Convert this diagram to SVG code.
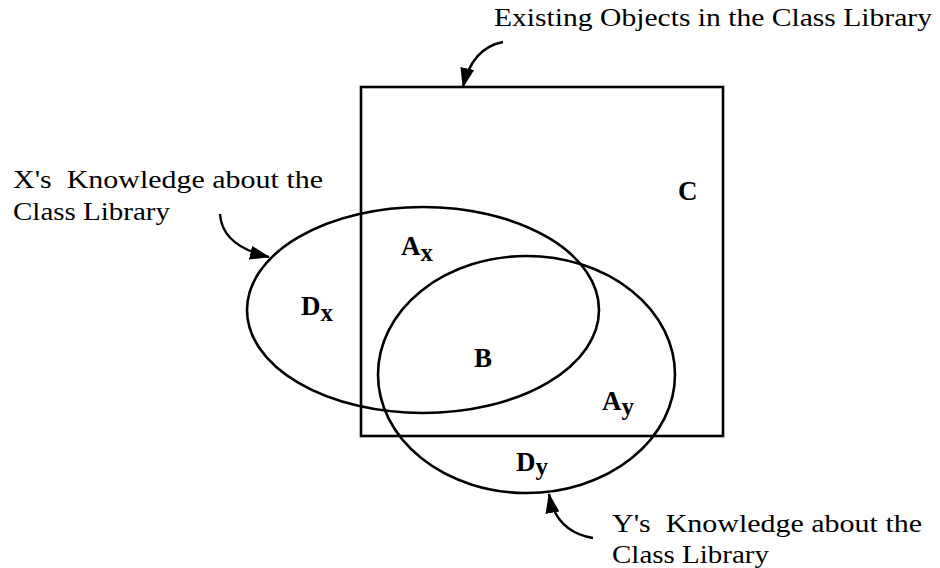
<svg xmlns="http://www.w3.org/2000/svg" width="940" height="568" viewBox="0 0 940 568">
<style>
.lbl{font-family:"Liberation Serif","Times New Roman",serif;font-size:26px;fill:#000;white-space:pre}
.set{font-family:"Liberation Serif","Times New Roman",serif;font-size:27px;font-weight:bold;fill:#000}
.sub{font-size:25px}
.shape{fill:none;stroke:#000;stroke-width:2.6}
.conn{fill:none;stroke:#000;stroke-width:2.4}
</style>
<defs>
<marker id="ah" markerUnits="userSpaceOnUse" markerWidth="22" markerHeight="16" refX="19" refY="7" orient="auto">
<path d="M0,0 L20,7 L0,14 z" fill="#000"/>
</marker>
</defs>
<rect width="940" height="568" fill="#fff"/>
<g id="library">
<rect class="shape" x="361" y="87" width="362" height="349" stroke-width="2.2"/>
<text class="lbl" x="494" y="26" textLength="438" lengthAdjust="spacingAndGlyphs">Existing Objects in the Class Library</text>
<text class="set" x="678" y="200">C</text>
</g>
<g id="x-knowledge">
<ellipse class="shape" cx="423" cy="310" rx="176" ry="103"/>
<text class="lbl" x="13" y="188" textLength="310" lengthAdjust="spacingAndGlyphs" xml:space="preserve">X's  Knowledge about the</text>
<text class="lbl" x="13" y="220" textLength="157" lengthAdjust="spacingAndGlyphs">Class Library</text>
<text class="set" x="401" y="255">A<tspan class="sub" dy="6">x</tspan></text>
<text class="set" x="301" y="315">D<tspan class="sub" dy="6">x</tspan></text>
</g>
<g id="y-knowledge">
<ellipse class="shape" cx="526.5" cy="374.5" rx="148.5" ry="118.5"/>
<text class="lbl" x="612" y="532" textLength="310" lengthAdjust="spacingAndGlyphs" xml:space="preserve">Y's  Knowledge about the</text>
<text class="lbl" x="612" y="563" textLength="157" lengthAdjust="spacingAndGlyphs">Class Library</text>
<text class="set" x="602" y="410">A<tspan class="sub" dy="5">y</tspan></text>
<text class="set" x="516" y="471">D<tspan class="sub" dy="4">y</tspan></text>
</g>
<g id="common">
<text class="set" x="474" y="367">B</text>
</g>
<g id="connectors">
<path class="conn" d="M503,42 Q472,48 463,87" marker-end="url(#ah)"/>
<path class="conn" d="M220,214 Q222,246 269,257" marker-end="url(#ah)"/>
<path class="conn" d="M593,538 Q556,532 549,494" marker-end="url(#ah)"/>
</g>
</svg>
